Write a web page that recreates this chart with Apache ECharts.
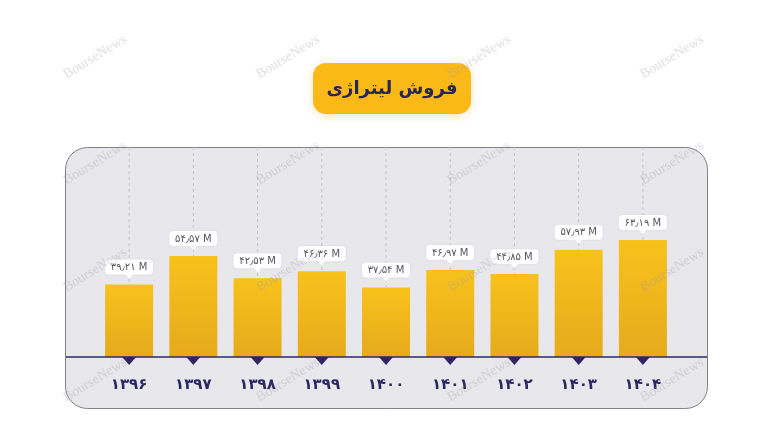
<!DOCTYPE html>
<html>
<head>
<meta charset="utf-8">
<script src="https://cdn.jsdelivr.net/npm/echarts@6/dist/echarts.min.js"></script>
<style>html,body{margin:0;padding:0;background:#fff}#chart{width:768px;height:437px}</style>
</head>
<body>
<div id="chart"></div>
<script>
const titleText = 'فروش لیتراژی';
const categories = ['۱۳۹۶', '۱۳۹۷', '۱۳۹۸', '۱۳۹۹', '۱۴۰۰', '۱۴۰۱', '۱۴۰۲', '۱۴۰۳', '۱۴۰۴'];
const values = [39.21, 54.57, 42.53, 46.36, 37.54, 46.97, 44.85, 57.93, 63.19];
const valueLabels = ['۳۹٫۲۱ M', '۵۴٫۵۷ M', '۴۲٫۵۳ M', '۴۶٫۳۶ M', '۳۷٫۵۴ M', '۴۶٫۹۷ M', '۴۴٫۸۵ M', '۵۷٫۹۳ M', '۶۳٫۱۹ M'];
const watermark = 'BourseNews';

const Y_MAX = 113.5;
const NAVY = '#2b2862';
const FONT = '"DejaVu Sans", sans-serif';

const chart = echarts.init(document.getElementById('chart'), null, {renderer: 'canvas'});

const wmX = [95, 288, 479, 672];
const wmY = [57, 163, 270, 380];
const wmGraphics = [];
wmY.forEach(y => wmX.forEach(x => {
  wmGraphics.push({
    type: 'text', x: x, y: y, rotation: 0.55, z: 100,
    style: {text: watermark, font: '14px "Liberation Serif", serif', fill: 'rgba(160,160,165,0.35)', align: 'center', verticalAlign: 'middle'}
  });
}));

const option = {
  backgroundColor: '#ffffff',
  animation: false,
  grid: {left: 97, width: 578, top: 147, height: 210},
  xAxis: {
    type: 'category', data: categories,
    axisLine: {show: false}, axisTick: {show: false}, splitLine: {show: false},
    axisLabel: {color: NAVY, fontFamily: FONT, fontWeight: 'bold', fontSize: 15, margin: 21}
  },
  yAxis: {type: 'value', min: 0, max: Y_MAX, show: false, splitLine: {show: false}},
  graphic: [
    {type: 'rect', z: -10, shape: {x: 65.5, y: 147.5, width: 642, height: 261, r: 22},
     style: {fill: '#e8e8ec', stroke: '#80808c', lineWidth: 1}},
    {type: 'line', z: 50, shape: {x1: 66, y1: 357, x2: 707, y2: 357}, style: {stroke: NAVY, lineWidth: 1.3}},
    {type: 'rect', z: 1, shape: {x: 313, y: 63, width: 158, height: 51, r: 13},
     style: {fill: '#fbb918', shadowBlur: 8, shadowColor: 'rgba(200,150,0,0.25)', shadowOffsetY: 2}},
    {type: 'text', z: 2, x: 392, y: 89,
     style: {text: titleText, font: 'bold 18px ' + FONT, fill: '#2a2556', align: 'center', verticalAlign: 'middle'}}
  ].concat(wmGraphics),
  series: [
    {
      type: 'custom', z: 1, silent: true,
      data: values.map((v, i) => [i, v]),
      renderItem: (params, api) => {
        const i = api.value(0), v = api.value(1);
        const top = api.coord([i, Y_MAX]);
        const bot = api.coord([i, v]);
        return {type: 'line', shape: {x1: top[0], y1: top[1], x2: bot[0], y2: bot[1]},
          style: {stroke: '#c3c3ca', lineWidth: 1, lineDash: [3, 3]}};
      }
    },
    {
      type: 'bar', z: 2, data: values, barWidth: 48,
      itemStyle: {color: new echarts.graphic.LinearGradient(0, 0, 0, 1, [
        {offset: 0, color: '#f8c21c'}, {offset: 1, color: '#e6aa1c'}])}
    },
    {
      type: 'custom', z: 5, silent: true,
      data: values.map((v, i) => [i, v]),
      renderItem: (params, api) => {
        const i = api.value(0), v = api.value(1);
        const p = api.coord([i, v]);
        const cx = p[0], h = 15, w = 48, by = p[1] - 6 - 4 - h;
        return {type: 'group', children: [
          {type: 'rect', shape: {x: cx - w / 2, y: by, width: w, height: h, r: 4},
           style: {fill: '#ffffff', shadowBlur: 2, shadowColor: 'rgba(0,0,0,0.08)'}},
          {type: 'polygon', shape: {points: [[cx - 4, by + h - 0.5], [cx + 4, by + h - 0.5], [cx, by + h + 4]]},
           style: {fill: '#ffffff'}},
          {type: 'text', style: {text: valueLabels[i], x: cx, y: by + h / 2 + 0.5, align: 'center', verticalAlign: 'middle',
            fill: '#555560', font: '10px ' + FONT}}
        ]};
      }
    },
    {
      type: 'custom', z: 6, silent: true,
      data: values.map((v, i) => [i, 0]),
      renderItem: (params, api) => {
        const p = api.coord([api.value(0), 0]);
        return {type: 'polygon', shape: {points: [[p[0] - 7, p[1]], [p[0] + 7, p[1]], [p[0], p[1] + 8]]},
          style: {fill: NAVY}};
      }
    }
  ]
};
chart.setOption(option);
</script>
</body>
</html>
